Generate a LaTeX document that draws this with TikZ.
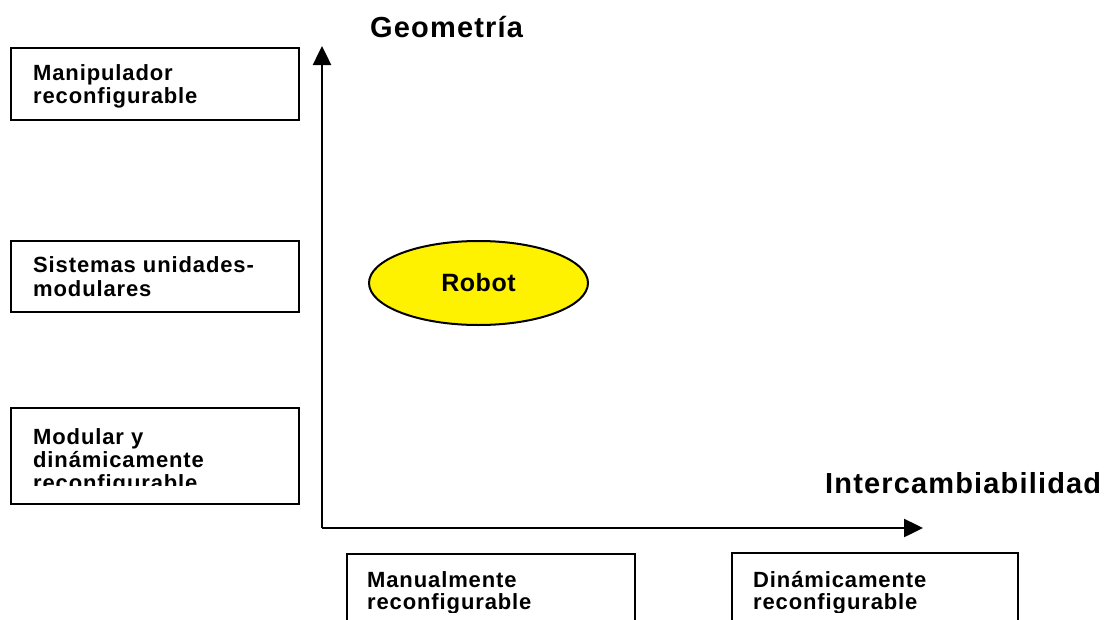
\documentclass[tikz,border=0pt]{standalone}
\usepackage{fontspec}
\setmainfont{Liberation Sans}
\newfontfamily\boxfont[LetterSpace=4]{Liberation Sans}
\newfontfamily\axisfont[LetterSpace=4]{Liberation Sans}
\newfontfamily\robotfont[LetterSpace=2]{Liberation Sans}
\usetikzlibrary{arrows.meta,shapes.geometric}
\begin{document}
\begin{tikzpicture}[x=1pt,y=-1pt,
  frame/.style={draw=black,line width=2pt,rectangle,anchor=north west,inner sep=0pt},
  boxtext/.style={anchor=base west,inner sep=0pt,font=\boxfont\bfseries\fontsize{22}{24}\selectfont},
  axislabel/.style={anchor=base west,inner sep=0pt,font=\axisfont\bfseries\fontsize{29}{32}\selectfont},
  axis/.style={line width=2.5pt,-{Triangle[width=18pt,length=19pt]}}]
\useasboundingbox (0,0) rectangle (1117,619);
% left boxes
\node[frame,minimum width=288pt,minimum height=72pt] (bman) at (10,47) {};
\node[boxtext] (bman1) at (33,80) {Manipulador};
\node[boxtext] (bman2) at (33,103) {reconfigurable};
\node[frame,minimum width=288pt,minimum height=71pt] (bsis) at (10,240) {};
\node[boxtext] (bsis1) at (33,272) {Sistemas unidades-};
\node[boxtext] (bsis2) at (33,296) {modulares};
\node[frame,minimum width=288pt,minimum height=96pt] (bmod) at (10,407) {};
\node[boxtext] (bmod1) at (33,444) {Modular y};
\node[boxtext] (bmod2) at (33,467) {dinámicamente};
\begin{scope}
\clip (11,470) rectangle (297,485);
\node[boxtext] (bmod3) at (33,490) {reconfigurable};
\end{scope}
% bottom boxes (open at bottom edge)
\begin{scope}
\clip (0,0) rectangle (1117,619);
\node[frame,minimum width=288pt,minimum height=80pt] (bmanu) at (346,553) {};
\node[frame,minimum width=286pt,minimum height=80pt] (bdin) at (731,552) {};
\end{scope}
\begin{scope}
\clip (340,540) rectangle (1117,612);
\node[boxtext] (bmanu1) at (367,587) {Manualmente};
\node[boxtext] (bmanu2) at (367,609) {reconfigurable};
\node[boxtext] (bdin1) at (753,587) {Dinámicamente};
\node[boxtext] (bdin2) at (753,609) {reconfigurable};
\end{scope}
% axes
\coordinate (origin) at (322,528);
\coordinate (ytip) at (322,46);
\coordinate (xtip) at (923,528);
\draw[axis] (origin) -- (ytip);
\draw[axis] (origin) -- (xtip);
\node[axislabel] (geo) at (370,37) {Geometría};
\node[axislabel] (inter) at (825,493) {Intercambiabilidad};
% robot
\node[ellipse,draw=black,line width=2pt,fill=yellow,minimum width=219pt,minimum height=84pt,inner sep=0pt,
  font=\robotfont\bfseries\fontsize{25}{28}\selectfont] (robot) at (478.5,283) {Robot};
\end{tikzpicture}
\end{document}
